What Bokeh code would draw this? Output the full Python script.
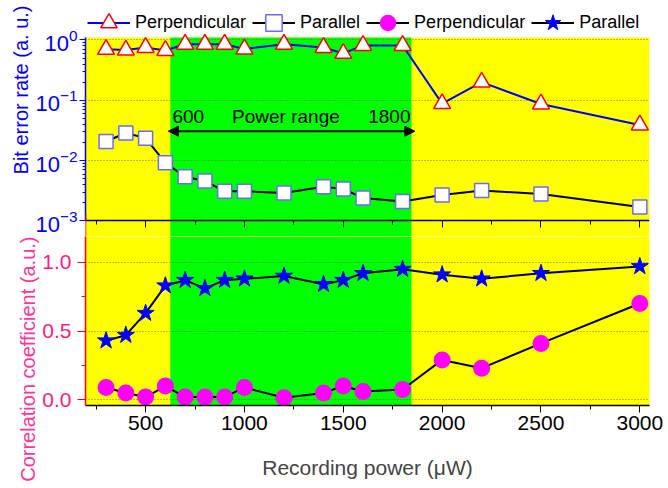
from bokeh.plotting import figure
from bokeh.layouts import column
from bokeh.models import (Range1d, LinearAxis, FixedTicker, BoxAnnotation, Arrow,
                          NormalHead, Label, Legend, LegendItem, Title)
from bokeh.embed import file_html
from bokeh.resources import INLINE

# ---------------- data ----------------
power = [300, 400, 500, 600, 700, 800, 900, 1000, 1200, 1400, 1500, 1600, 1800,
         2000, 2200, 2500, 3000]
ber_perpendicular = [0.70, 0.68, 0.75, 0.67, 0.85, 0.85, 0.85, 0.71, 0.85, 0.75,
                     0.60, 0.81, 0.81, 0.088, 0.20, 0.087, 0.039]
ber_parallel = [0.0208, 0.0287, 0.0236, 0.0092, 0.0054, 0.0046, 0.0031, 0.0031,
                0.0029, 0.0037, 0.0034, 0.0024, 0.0021, 0.0027, 0.0032, 0.0028, 0.0017]
cc_perpendicular = [0.09, 0.05, 0.02, 0.10, 0.02, 0.02, 0.02, 0.09, 0.015, 0.05,
                    0.10, 0.06, 0.075, 0.29, 0.23, 0.41, 0.70]
cc_parallel = [0.43, 0.47, 0.63, 0.83, 0.87, 0.81, 0.87, 0.88, 0.90, 0.84, 0.87,
               0.92, 0.95, 0.91, 0.88, 0.92, 0.97]

legend_labels = ["Perpendicular", "Parallel", "Perpendicular", "Parallel"]
power_ticks = [500, 1000, 1500, 2000, 2500, 3000]
power_minor_ticks = [250, 750, 1250, 1750, 2250, 2750]
ber_ticks = [0.001, 0.01, 0.1, 1]
ber_limits = (0.001, 1.10)
cc_ticks = [0.0, 0.5, 1.0]
cc_tick_labels = ["0.0", "0.5", "1.0"]
cc_minor_ticks = [0.25, 0.75, 1.25]
cc_limits = (-0.0415, 1.297)
range_labels = ["600", "Power range", "1800"]
green_window = (625, 1845)
arrow_span = (615, 1862)

FONT = "Liberation Sans"
YELLOW = "#FFFF00"
GREEN = "#00FF00"
BLUE = "#0000FF"
RED = "#FF0000"
MAGENTA = "#FF00FF"
PINK = "#FF1A7A"
NAN = float("nan")

SPLIT = 1.1876   # correlation value at the row where the two canvases meet

x_range = Range1d(196, 3049)
power_ticker = FixedTicker(ticks=power_ticks, minor_ticks=power_minor_ticks)
cc_ticker = FixedTicker(ticks=cc_ticks, minor_ticks=cc_minor_ticks)

# ---------------- top panel: bit error rate ----------------
p1 = figure(width=668, height=236, x_range=x_range, y_range=Range1d(0.000553, 4.516),
            y_axis_type="log", x_axis_location=None, title=None, output_backend="svg",
            toolbar_location=None, min_border_left=85, min_border_right=19,
            min_border_top=0, min_border_bottom=0, background_fill_color="white",
            border_fill_color="white", outline_line_color=None)
p1.extra_y_ranges = {"cc": Range1d(SPLIT, 2.904)}
p1.xgrid.visible = False
ber_minor = [m * d for d in [0.001, 0.01, 0.1] for m in range(2, 10)]
ber_ticker = FixedTicker(ticks=ber_ticks, minor_ticks=ber_minor)
ay = p1.yaxis[0]
ay.ticker = ber_ticker
ay.bounds = ber_limits
ay.axis_line_color = BLUE
ay.axis_line_width = 1.5
ay.major_tick_line_color = BLUE
ay.minor_tick_line_color = BLUE
ay.major_tick_out = 6
ay.major_tick_in = 0
ay.minor_tick_out = 3
ay.minor_tick_in = 0
ay.major_label_text_color = BLUE
ay.major_label_text_font = FONT
ay.major_label_text_font_size = "22px"
ay.major_label_standoff = 2
p1.ygrid.ticker = ber_ticker
p1.ygrid.grid_line_color = "#555555"
p1.ygrid.grid_line_dash = "1 2"
p1.ygrid.grid_line_alpha = 0.8

# upper end of the correlation axis (red spine + minor tick at 1.25)
cc_top = LinearAxis(y_range_name="cc", fixed_location=x_range.start,
                    bounds=(SPLIT, cc_limits[1]),
                    ticker=FixedTicker(ticks=[], minor_ticks=cc_minor_ticks),
                    axis_line_color=RED, axis_line_width=1.5, minor_tick_line_color=RED,
                    minor_tick_out=4, minor_tick_in=0, major_tick_out=0, major_tick_in=0,
                    major_label_text_color=None)
p1.add_layout(cc_top, "left")

# bottom edge of the upper panel: black line with downward ticks, no labels
mid_axis = LinearAxis(fixed_location=ber_limits[0], ticker=power_ticker,
                      major_tick_out=7, major_tick_in=0, minor_tick_out=4, minor_tick_in=0,
                      major_label_text_color=None, major_label_text_font_size="1px",
                      axis_line_width=1.5, axis_line_color="black")
p1.add_layout(mid_axis, "below")

p1.add_layout(Title(text="Bit error rate (a. u.)", align="right", offset=5,
                    vertical_align="middle", standoff=0, text_font=FONT,
                    text_font_size="20px", text_font_style="normal", text_color=BLUE),
              "left")

p1.add_layout(BoxAnnotation(top=ber_limits[1], fill_color=YELLOW, fill_alpha=1,
                            line_color=None, level="image"))
p1.add_layout(BoxAnnotation(left=green_window[0], right=green_window[1], top=ber_limits[1],
                            fill_color=GREEN, fill_alpha=1, line_color=None, level="image"))

l_perp = p1.line(power, ber_perpendicular, line_color=BLUE, line_width=2)
m_perp = p1.scatter(power, ber_perpendicular, marker="triangle", size=17,
                    fill_color="white", line_color=RED, line_width=1.5)
l_par = p1.line(power, ber_parallel, line_color="black", line_width=2)
m_par = p1.scatter(power, ber_parallel, marker="square", size=14,
                   fill_color="white", line_color="#6a6aff", line_width=1.5)
# legend proxies (no visible points) for the lower-panel series
d_l1 = p1.line([NAN], [NAN], line_color="black", line_width=2)
d_m1 = p1.scatter([NAN], [NAN], marker="circle", size=17, fill_color=MAGENTA, line_color=None)
d_l2 = p1.line([NAN], [NAN], line_color="black", line_width=2)
d_m2 = p1.scatter([NAN], [NAN], marker="star", size=17, fill_color=BLUE, line_color=BLUE)

legend = Legend(items=[LegendItem(label=legend_labels[0], renderers=[l_perp, m_perp]),
                       LegendItem(label=legend_labels[1], renderers=[l_par, m_par]),
                       LegendItem(label=legend_labels[2], renderers=[d_l1, d_m1]),
                       LegendItem(label=legend_labels[3], renderers=[d_l2, d_m2])],
                orientation="horizontal", location=(2, 193), glyph_width=43,
                glyph_height=41, label_standoff=5, spacing=6, padding=0, margin=0,
                label_text_font=FONT, label_text_font_size="18px",
                label_text_color="black",
                border_line_alpha=0, background_fill_alpha=0)
p1.add_layout(legend)

p1.add_layout(Arrow(start=NormalHead(size=10, fill_color="black", line_color="black"),
                    end=NormalHead(size=10, fill_color="black", line_color="black"),
                    x_start=arrow_span[0], y_start=0.0308, x_end=arrow_span[1], y_end=0.0308,
                    line_color="black", line_width=2))
for txt, xx, al in zip(range_labels, [636, 1210, 1840], ["left", "center", "right"]):
    p1.add_layout(Label(x=xx, y=0.054, text=txt, text_align=al, text_baseline="middle",
                        text_font=FONT, text_font_size="19px", text_color="black"))

# ---------------- bottom panel: correlation coefficient ----------------
p2 = figure(width=668, height=252, x_range=x_range, y_range=Range1d(cc_limits[0], SPLIT),
            title=None, output_backend="svg", toolbar_location=None, min_border_left=85,
            min_border_right=19, min_border_top=0, min_border_bottom=83,
            background_fill_color=YELLOW, outline_line_color=None)
p2.xgrid.visible = False
ax = p2.xaxis[0]
ax.ticker = power_ticker
ax.axis_line_color = "black"
ax.axis_line_width = 1.5
ax.major_tick_out = 7
ax.major_tick_in = 0
ax.minor_tick_out = 4
ax.minor_tick_in = 0
ax.major_label_text_font = FONT
ax.major_label_text_font_size = "21px"
ax.major_label_text_color = "black"
ax.major_label_standoff = 3
ax.axis_label = "Recording power (\u03bcW)"
ax.axis_label_text_font = FONT
ax.axis_label_text_font_size = "21px"
ax.axis_label_text_font_style = "normal"
ax.axis_label_standoff = 23

cy = p2.yaxis[0]
cy.ticker = cc_ticker
cy.major_label_overrides = dict(zip(cc_ticks, cc_tick_labels))
cy.axis_line_color = RED
cy.axis_line_width = 1.5
cy.major_tick_line_color = RED
cy.minor_tick_line_color = RED
cy.major_tick_out = 8
cy.major_tick_in = 0
cy.minor_tick_out = 4
cy.minor_tick_in = 0
cy.major_label_text_color = PINK
cy.major_label_text_font = FONT
cy.major_label_text_font_size = "21px"
cy.major_label_standoff = 6
p2.ygrid.ticker = cc_ticker
p2.ygrid.grid_line_color = "#555555"
p2.ygrid.grid_line_dash = "1 2"
p2.ygrid.grid_line_alpha = 0.8

p2.add_layout(Title(text="Correlation coefficient (a.u.)", align="right", offset=0,
                    vertical_align="middle", standoff=0, text_font=FONT,
                    text_font_size="20px", text_font_style="normal",
                    text_color="#FF3399"), "left")

p2.add_layout(BoxAnnotation(left=green_window[0], right=green_window[1], fill_color=GREEN,
                            fill_alpha=1, line_color=None, level="image"))

p2.line(power, cc_parallel, line_color="black", line_width=2)
p2.scatter(power, cc_parallel, marker="star", size=18, fill_color=BLUE, line_color=BLUE)
p2.line(power, cc_perpendicular, line_color="black", line_width=2)
p2.scatter(power, cc_perpendicular, marker="circle", size=17, fill_color=MAGENTA,
           line_color=None)

layout = column(p1, p2)
open("out.html", "w").write(file_html(layout, INLINE))
